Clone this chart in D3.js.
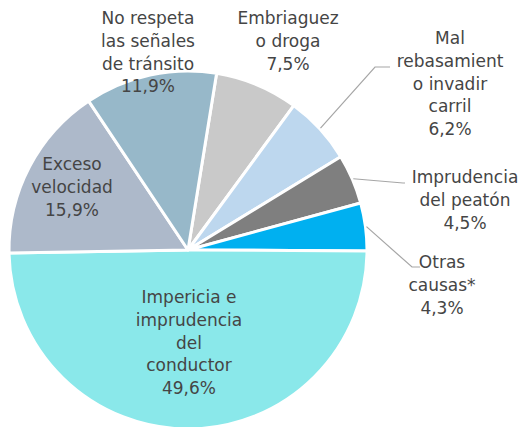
<!DOCTYPE html>
<html>
<head>
<meta charset="utf-8">
<script src="https://cdn.jsdelivr.net/npm/d3@7"></script>
<style>
  body { margin: 0; background: #fff; }
  text { font-family: "DejaVu Sans", sans-serif; fill: #454545; }
</style>
</head>
<body>
<div id="chart"></div>
<script>
// data
var categories = [
    "Embriaguez o droga",
    "Mal rebasamiento o invadir carril",
    "Imprudencia del peatón",
    "Otras causas*",
    "Impericia e imprudencia del conductor",
    "Exceso velocidad",
    "No respeta las señales de tránsito"
];
var values = [7.5, 6.2, 4.5, 4.3, 49.6, 15.9, 11.9];
var labelLines = [
    ["Embriaguez", "o droga"],
    ["Mal", "rebasamient", "o invadir", "carril"],
    ["Imprudencia", "del peatón"],
    ["Otras", "causas*"],
    ["Impericia e", "imprudencia", "del", "conductor"],
    ["Exceso", "velocidad"],
    ["No respeta", "las señales", "de tránsito"]
];
var colors = ["#c9c9c9", "#bdd7ee", "#7f7f7f", "#00b0f0", "#8ae8ea", "#adb9ca", "#97b8c9"];

// layout
var svgWidth = 526, svgHeight = 427;
var cx = 188, cy = 250, radius = 179;
var lineHeight = 22.8;
var fontSize = 17;

// label anchor = centre x and first line y, elbow = leader line bend
var labelPos = [
    { x: 288, y: 24 },
    { x: 450, y: 44 },
    { x: 465, y: 183 },
    { x: 442, y: 268 },
    { x: 189, y: 303 },
    { x: 72, y: 170 },
    { x: 148, y: 24 }
];
var leaders = [
    null,
    [[375, 67], [390, 67]],
    [[403, 183], [405, 183]],
    [[412, 267], [420, 267]],
    null, null, null
];

var svg = d3.select("#chart")
    .append("svg")
    .attr("width", svgWidth)
    .attr("height", svgHeight);

var chartGroup = svg.append("g")
    .attr("transform", `translate(${cx}, ${cy})`);

var pie = d3.pie()
    .sort(null)
    .startAngle(9.2 * Math.PI / 180)
    .endAngle(9.2 * Math.PI / 180 + 2 * Math.PI)
    .value(d => d);

var arc = d3.arc().innerRadius(0).outerRadius(radius);

var arcs = pie(values);

chartGroup.selectAll("path")
    .data(arcs)
    .enter()
    .append("path")
    .attr("d", arc)
    .attr("fill", (d, i) => colors[i])
    .attr("stroke", "#fff")
    .attr("stroke-width", 3)
    .attr("stroke-linejoin", "round");

// leader lines
arcs.forEach(function(d, i) {
    if (!leaders[i]) return;
    var mid = (d.startAngle + d.endAngle) / 2;
    var r = radius + 1;
    var pts = [[cx + r * Math.sin(mid), cy - r * Math.cos(mid)]].concat(leaders[i]);
    svg.append("path")
        .attr("d", d3.line()(pts))
        .attr("fill", "none")
        .attr("stroke", "#a6a6a6")
        .attr("stroke-width", 1.2);
});

// labels
var fmt = v => v.toFixed(1).replace(".", ",") + "%";

arcs.forEach(function(d, i) {
    var lines = labelLines[i].concat([fmt(values[i])]);
    var t = svg.append("text")
        .attr("text-anchor", "middle")
        .attr("font-size", fontSize + "px");
    lines.forEach(function(line, j) {
        t.append("tspan")
            .attr("x", labelPos[i].x)
            .attr("y", labelPos[i].y + j * lineHeight)
            .text(line);
    });
});
</script>
</body>
</html>
